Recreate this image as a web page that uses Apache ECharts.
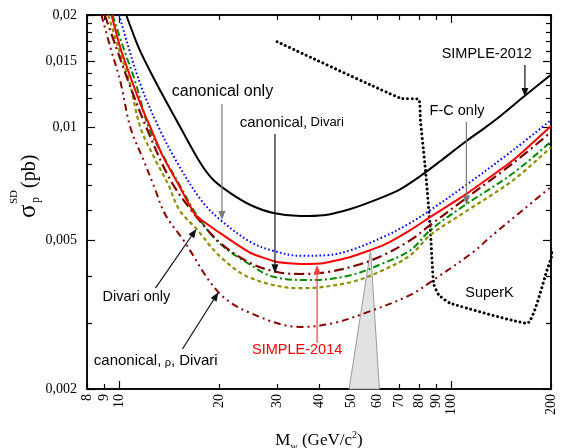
<!DOCTYPE html>
<html><head><meta charset="utf-8">
<script src="https://cdn.jsdelivr.net/npm/echarts@6/dist/echarts.min.js"></script>
<style>html,body{margin:0;padding:0;background:#fff}#c{width:564px;height:448px}</style>
</head><body><div id="c"></div>
<script>
// ---------- tick values ----------
const xTickLabels = [8, 9, 10, 20, 30, 40, 50, 60, 70, 80, 90, 100, 200];
const xMajorTicks = [10, 100];
const xMinorTicks = [8, 9, 20, 30, 40, 50, 60, 70, 80, 90, 200];
const yTickLabels = [0.002, 0.005, 0.01, 0.015, 0.02];
const yMinorTicks = [0.003, 0.004, 0.006, 0.007, 0.008, 0.009, 0.011, 0.012, 0.013, 0.014, 0.016, 0.017, 0.018, 0.019];

// ---------- curves (mass GeV/c^2, sigma pb) ----------
const massSimple2012 = [10.5, 11.43, 12.43, 13.62, 15.3, 17.57, 19.23, 21.63, 24.86, 29.16, 35.16, 41.25, 49.75, 61.2, 70.4, 80.8, 92.9, 111.2, 125.1, 140.8, 165.1, 200];
const sigmaSimple2012 = [0.0200, 0.01642, 0.01408, 0.01207, 0.0100, 0.00804, 0.00724, 0.00668, 0.00621, 0.00591, 0.00580, 0.00583, 0.00606, 0.00648, 0.00685, 0.00742, 0.00814, 0.00921, 0.00992, 0.01074, 0.01207, 0.01385];

const massCanonical = [10.0, 11.5, 13.2, 15.1, 17.8, 20.2, 24.9, 29.2, 35.2, 42.5, 49.8, 62.5, 75.4, 86.6, 109, 154, 200];
const sigmaCanonical = [0.0200, 0.0133, 0.00995, 0.00794, 0.00634, 0.00566, 0.00494, 0.00468, 0.00454, 0.00456, 0.00470, 0.00510, 0.00556, 0.00602, 0.00694, 0.00871, 0.01048];

const massSimple2014 = [9.48, 10.09, 10.94, 11.73, 12.43, 13.48, 15.12, 16.97, 19.9, 24.9, 29.9, 35.2, 41.3, 49.8, 62.5, 75.4, 86.6, 111, 154, 200];
const sigmaSimple2014 = [0.0200, 0.0163, 0.01327, 0.01126, 0.0100, 0.00844, 0.00702, 0.00584, 0.00526, 0.00462, 0.00437, 0.00432, 0.00434, 0.00451, 0.00485, 0.00532, 0.00577, 0.00664, 0.00819, 0.0101];

const massCanDivari = [9.05, 9.81, 10.67, 12.08, 14.27, 16.74, 20.2, 24.9, 29.9, 35.2, 42.5, 52.2, 62.5, 75.4, 86.6, 109, 154, 200];
const sigmaCanDivari = [0.0200, 0.01632, 0.01324, 0.0100, 0.00724, 0.00591, 0.00491, 0.00434, 0.00411, 0.00406, 0.00411, 0.00429, 0.00456, 0.00500, 0.00549, 0.0064, 0.00804, 0.00973];

const massFConly = [9.55, 10.3, 11.19, 12.28, 13.79, 15.51, 16.97, 19.9, 24.9, 29.2, 37.7, 49.8, 62.5, 75.4, 86.6, 109, 154, 200];
const sigmaFConly = [0.0200, 0.01632, 0.01324, 0.0100, 0.00819, 0.00681, 0.00591, 0.00494, 0.00429, 0.00399, 0.00391, 0.00403, 0.00434, 0.0047, 0.00532, 0.00617, 0.00756, 0.00917];

const massDivariOnly = [9.27, 9.95, 10.74, 11.59, 12.86, 14.08, 15.19, 17.09, 20.2, 24.9, 35.2, 49.8, 62.5, 75.4, 86.6, 109, 154, 200];
const sigmaDivariOnly = [0.0200, 0.01632, 0.01324, 0.0100, 0.00819, 0.00702, 0.00602, 0.00536, 0.00451, 0.00396, 0.00372, 0.00386, 0.00416, 0.00456, 0.00516, 0.00591, 0.00724, 0.00887];

const massCanRhoDivari = [8.84, 9.42, 10.09, 10.81, 11.84, 12.69, 13.79, 15.62, 19.9, 24.9, 35.2, 44.2, 56.0, 75.4, 88.4, 116.7, 131.3, 200];
const sigmaCanRhoDivari = [0.0200, 0.01632, 0.01324, 0.0100, 0.00819, 0.00702, 0.00584, 0.0050, 0.00363, 0.00319, 0.00293, 0.0030, 0.00321, 0.00357, 0.00391, 0.00465, 0.0051, 0.00694];

const massSuperK = [29.9, 70.4, 79.9, 80.8, 83.7, 86.6, 88.6, 91.8, 99.5, 169.4, 194.6, 213];
const sigmaSuperK = [0.01697, 0.01198, 0.0119, 0.01048, 0.0077, 0.00532, 0.00383, 0.00357, 0.00339, 0.0030, 0.00416, 0.0053];

const massTriangle = [49.3, 57.2, 60.8];
const sigmaTriangle = [0.002, 0.0047, 0.002];

// ---------- annotations ----------
const labelTexts = ['{a|canonical only}', '{b|canonical,} {c|Divari}', '{d|SIMPLE-2012}', '{d|F-C only}', '{d|Divari only}', '{b|canonical,} {s|ρ}{b|, Divari}', '{r|SIMPLE-2014}', '{d|SuperK}'];
const labelMass = [20.47, 23.08, 128.1, 104.2, 11.27, 8.386, 34.37, 130.5];
const labelSigma = [0.01245, 0.01032, 0.01573, 0.01108, 0.00352, 0.002377, 0.00255, 0.00361];
const labelAlign = ['center', 'left', 'center', 'center', 'center', 'left', 'center', 'center'];

const arrowFromMass = [20.4, 29.47, 166.9, 111.2, 12.86, 15.51, 39.48];
const arrowFromSigma = [0.01156, 0.00961, 0.0147, 0.01035, 0.00372, 0.002558, 0.002655];
const arrowToMass = [20.4, 29.47, 166.9, 111.2, 17.09, 19.91, 39.48];
const arrowToSigma = [0.00566, 0.00408, 0.01207, 0.00621, 0.00536, 0.00363, 0.00429];
const arrowColor = ['#7a7a7a', '#111', '#111', '#7a7a7a', '#111', '#111', '#ff3b3b'];

// ---------- build ----------
const serif = "'Liberation Serif','DejaVu Serif',serif";
const sans = "'Liberation Sans',Arial,sans-serif";
const pairs = (a, b) => a.map((v, i) => [v, b[i]]);

function xAx(pos, ticks, len, label) {
  return {
    type: 'log', logBase: 10, min: 8, max: 200, position: pos, gridIndex: 0,
    axisLine: { show: true, onZero: false, lineStyle: { color: '#000', width: 1.5 } },
    axisTick: { show: true, inside: true, length: len, customValues: ticks, lineStyle: { color: '#000', width: 1.2 } },
    axisLabel: label ? {
      show: true, customValues: xTickLabels, rotate: 90, margin: 5,
      fontFamily: serif, fontSize: 14, color: '#000',
      formatter: v => String(Math.round(v))
    } : { show: false },
    splitLine: { show: false }, minorTick: { show: false }, minorSplitLine: { show: false }
  };
}
function yAx(pos, ticks, len, label) {
  return {
    type: 'log', logBase: 10, min: 0.002, max: 0.02, position: pos, gridIndex: 0,
    axisLine: { show: true, onZero: false, lineStyle: { color: '#000', width: 1.5 } },
    axisTick: { show: true, inside: true, length: len, customValues: ticks, lineStyle: { color: '#000', width: 1.2 } },
    axisLabel: label ? {
      show: true, customValues: yTickLabels, margin: 10,
      fontFamily: serif, fontSize: 14, color: '#000',
      formatter: v => String(+(+v).toPrecision(4)).replace('.', ',')
    } : { show: false },
    splitLine: { show: false }, minorTick: { show: false }, minorSplitLine: { show: false }
  };
}

function lineSeries(name, mass, sigma, color, type, width, smooth, cap, z) {
  return {
    name, type: 'line', xAxisIndex: 0, yAxisIndex: 0, data: pairs(mass, sigma),
    showSymbol: false, symbol: 'none', clip: true, z: z || 3, smooth: smooth,
    lineStyle: { color, width, type, cap: cap || 'butt', join: 'round' }
  };
}

const chart = echarts.init(document.getElementById('c'), null, { renderer: 'canvas' });
chart.setOption({
  animation: false,
  backgroundColor: '#fff',
  grid: { left: 87, right: 13, top: 15, bottom: 59, containLabel: false },
  xAxis: [
    xAx('bottom', xMajorTicks, 8, true),
    xAx('bottom', xMinorTicks, 5, false),
    xAx('top', xMajorTicks, 8, false),
    xAx('top', xMinorTicks, 5, false)
  ],
  yAxis: [
    yAx('left', yTickLabels, 8, true),
    yAx('left', yMinorTicks, 5, false),
    yAx('right', yTickLabels, 8, false),
    yAx('right', yMinorTicks, 5, false)
  ],
  series: [
    {
      type: 'custom', xAxisIndex: 0, yAxisIndex: 0, z: 1,
      data: [[massTriangle[0], sigmaTriangle[0]]],
      renderItem: (params, api) => ({
        type: 'polygon',
        shape: { points: massTriangle.map((m, i) => api.coord([m, sigmaTriangle[i]])) },
        style: { fill: '#e2e2e2', stroke: '#9a9a9a', lineWidth: 1 }
      })
    },
    lineSeries('SuperK', massSuperK, sigmaSuperK, '#000', [0.01, 4.6], 3, 0.15, 'round'),
    lineSeries('canonical, ρ, Divari', massCanRhoDivari, sigmaCanRhoDivari, '#8b0000', [7, 4, 2, 4, 2, 4], 2, 0.35),
    lineSeries('Divari only', massDivariOnly, sigmaDivariOnly, '#8f8f00', [4, 3], 2.2, 0.35),
    lineSeries('F-C only', massFConly, sigmaFConly, '#008a00', [7, 3, 2, 3], 2, 0.35),
    lineSeries('canonical, Divari', massCanDivari, sigmaCanDivari, '#800000', [10, 4, 2, 4], 2.2, 0.35),
    lineSeries('canonical only', massCanonical, sigmaCanonical, '#0000ff', [1.6, 2.4], 2, 0.35),
    lineSeries('SIMPLE-2014', massSimple2014, sigmaSimple2014, '#ff0000', 'solid', 2, 0.15, 'butt', 4),
    lineSeries('SIMPLE-2012', massSimple2012, sigmaSimple2012, '#000', 'solid', 2, 0.3),
    {
      type: 'custom', xAxisIndex: 0, yAxisIndex: 0, z: 5,
      data: pairs(arrowToMass, arrowToSigma),
      renderItem: (params, api) => {
        const i = params.dataIndex;
        const p1 = api.coord([arrowFromMass[i], arrowFromSigma[i]]);
        const p2 = api.coord([arrowToMass[i], arrowToSigma[i]]);
        const dx = p2[0] - p1[0], dy = p2[1] - p1[1], L = Math.hypot(dx, dy);
        const ux = dx / L, uy = dy / L, hl = 9, hw = 3.5;
        const b = [p2[0] - ux * hl, p2[1] - uy * hl];
        const c = arrowColor[i];
        return {
          type: 'group', children: [
            { type: 'line', shape: { x1: p1[0], y1: p1[1], x2: b[0], y2: b[1] }, style: { stroke: c, lineWidth: 1.2 } },
            { type: 'polygon', shape: { points: [p2, [b[0] - uy * hw, b[1] + ux * hw], [b[0] + uy * hw, b[1] - ux * hw]] }, style: { fill: c } }
          ]
        };
      }
    },
    {
      type: 'custom', xAxisIndex: 0, yAxisIndex: 0, z: 6,
      data: pairs(labelMass, labelSigma),
      renderItem: (params, api) => {
        const i = params.dataIndex;
        const p = api.coord([labelMass[i], labelSigma[i]]);
        return {
          type: 'text', x: p[0], y: p[1],
          style: {
            text: labelTexts[i], align: labelAlign[i], verticalAlign: 'middle',
            rich: {
              a: { fontFamily: sans, fontSize: 16, fill: '#000', color: '#000' },
              b: { fontFamily: sans, fontSize: 15, fill: '#000', color: '#000' },
              c: { fontFamily: sans, fontSize: 13, fill: '#000', color: '#000' },
              d: { fontFamily: sans, fontSize: 14.5, fill: '#000', color: '#000' },
              s: { fontFamily: sans, fontSize: 11, fill: '#000', color: '#000', verticalAlign: 'bottom', lineHeight: 11, padding: [6, 0, 0, 0] },
              r: { fontFamily: sans, fontSize: 14.5, fill: '#ff0000', color: '#ff0000' }
            }
          }
        };
      }
    }
  ],
  graphic: [
    {
      type: 'group', x: 28, y: 218, rotation: Math.PI / 2,
      children: [
        { type: 'text', x: 0, y: 0, style: { text: 'σ', font: '25px ' + serif, fill: '#000', align: 'left', verticalAlign: 'middle' } },
        { type: 'text', x: 15, y: 8, style: { text: 'p', font: '12px ' + serif, fill: '#000', align: 'left', verticalAlign: 'middle' } },
        { type: 'text', x: 14, y: -14, style: { text: 'SD', font: '11px ' + serif, fill: '#000', align: 'left', verticalAlign: 'middle' } },
        { type: 'text', x: 30, y: 2, style: { text: '(pb)', font: '20px ' + serif, fill: '#000', align: 'left', verticalAlign: 'middle' } }
      ]
    },
    {
      type: 'text', x: 319, y: 441,
      style: {
        text: '{m|M}{s|w}{m| (GeV/c}{p|2}{m|)}', align: 'center', verticalAlign: 'middle',
        rich: {
          m: { fontFamily: serif, fontSize: 17, lineHeight: 22, fill: '#000' },
          s: { fontFamily: serif, fontSize: 10, lineHeight: 10, verticalAlign: 'bottom', fill: '#000' },
          p: { fontFamily: serif, fontSize: 10, lineHeight: 10, verticalAlign: 'top', fill: '#000' }
        }
      }
    }
  ]
});
</script></body></html>
